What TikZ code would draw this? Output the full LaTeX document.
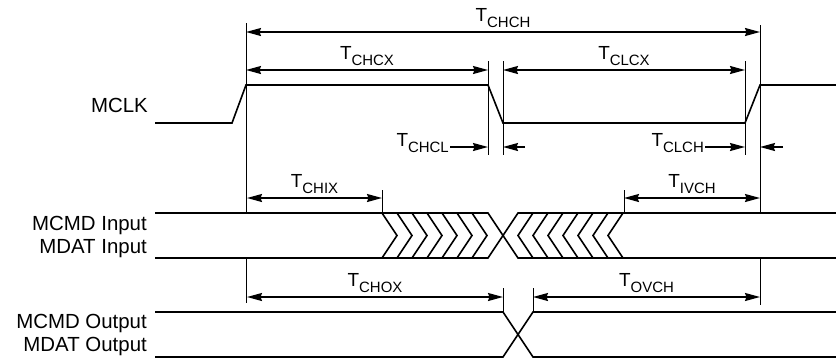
\documentclass[tikz,border=0pt]{standalone}
\usepackage{fontspec}
\setmainfont{Liberation Sans}
\usetikzlibrary{arrows.meta,calc}
\newcommand{\tname}[1]{\fontsize{19}{19}\selectfont T\raisebox{-6.5bp}{\fontsize{15}{15}\selectfont #1}}
\begin{document}
\begin{tikzpicture}[x=1bp,y=-1bp,>={Stealth[length=15bp,width=8bp,inset=1.5bp]},
 sig/.style={line width=1.6bp},tick/.style={line width=0.9bp},dim/.style={line width=1.5bp},
 sname/.style={font=\fontsize{20.5}{20.5}\selectfont,anchor=base east,inner sep=0pt},
 tlbl/.style={anchor=base,inner sep=0pt}]
\useasboundingbox (0,0) rectangle (836,358);
% signal names
\node[sname] (mclk) at (148,112) {MCLK};
\node[sname] (cmdin) at (147,230) {MCMD Input};
\node[sname] (datin) at (147,253) {MDAT Input};
\node[sname] (cmdout) at (147,328) {MCMD Output};
\node[sname] (datout) at (147,351) {MDAT Output};
% waveforms
\draw[sig] (155,123) -- (232,123) -- (246,85) -- (488,85) -- (503,123) -- (745,123) -- (760,85) -- (836,85);
\draw[sig] (155,213) -- (488,213) -- (518,258) -- (836,258) (155,258) -- (488,258) -- (518,213) -- (836,213);
\draw[sig] foreach \i in {0,...,6} {({382+15*\i},213) -- ({397+15*\i},235.5) -- ({382+15*\i},258)
 ({533+15*\i},213) -- ({518+15*\i},235.5) -- ({533+15*\i},258)};
\draw[sig] (155,312) -- (503,312) -- (533,357) -- (836,357) (155,357) -- (503,357) -- (533,312) -- (836,312);
% reference lines
\draw[tick] (246,23) -- (246,213) (246,258) -- (246,303) (760,25) -- (760,213) (760,258) -- (760,305)
 (488,61) -- (488,155) (503,61) -- (503,155) (745,61) -- (745,155)
 (382,190) -- (382,213) (624,190) -- (624,213) (503,288) -- (503,312) (533,288) -- (533,312);
% timing parameters
\foreach \n/\a/\b/\y in {CHCH/246/760/32,CHCX/246/488/70,CLCX/503/745/70,CHIX/247/382/198,IVCH/624/760/198,CHOX/247/503/297,OVCH/533/760/297}{
 \coordinate (\n-l) at (\a,\y); \coordinate (\n-r) at (\b,\y);
 \draw[dim,<->] (\n-l) -- (\n-r);
 \node[tlbl] (\n) at ($(\n-l)!0.5!(\n-r)+(0,-11)$) {\tname{\n}};
}
\node[tlbl,anchor=base east] (CHCL) at (449,146) {\tname{CHCL}};
\node[tlbl,anchor=base east] (CLCH) at (704,146) {\tname{CLCH}};
\coordinate (chcl-a) at (488,147); \coordinate (chcl-b) at (503,147);
\coordinate (clch-a) at (745,147); \coordinate (clch-b) at (760,147);
\draw[dim,->] (CHCL.base east |- chcl-a) ++(1,0) -- (chcl-a);
\draw[dim,->] ($(chcl-b)+(22,0)$) -- (chcl-b);
\draw[dim,->] (CLCH.base east |- clch-a) ++(1,0) -- (clch-a);
\draw[dim,->] ($(clch-b)+(23,0)$) -- (clch-b);
\end{tikzpicture}
\end{document}
